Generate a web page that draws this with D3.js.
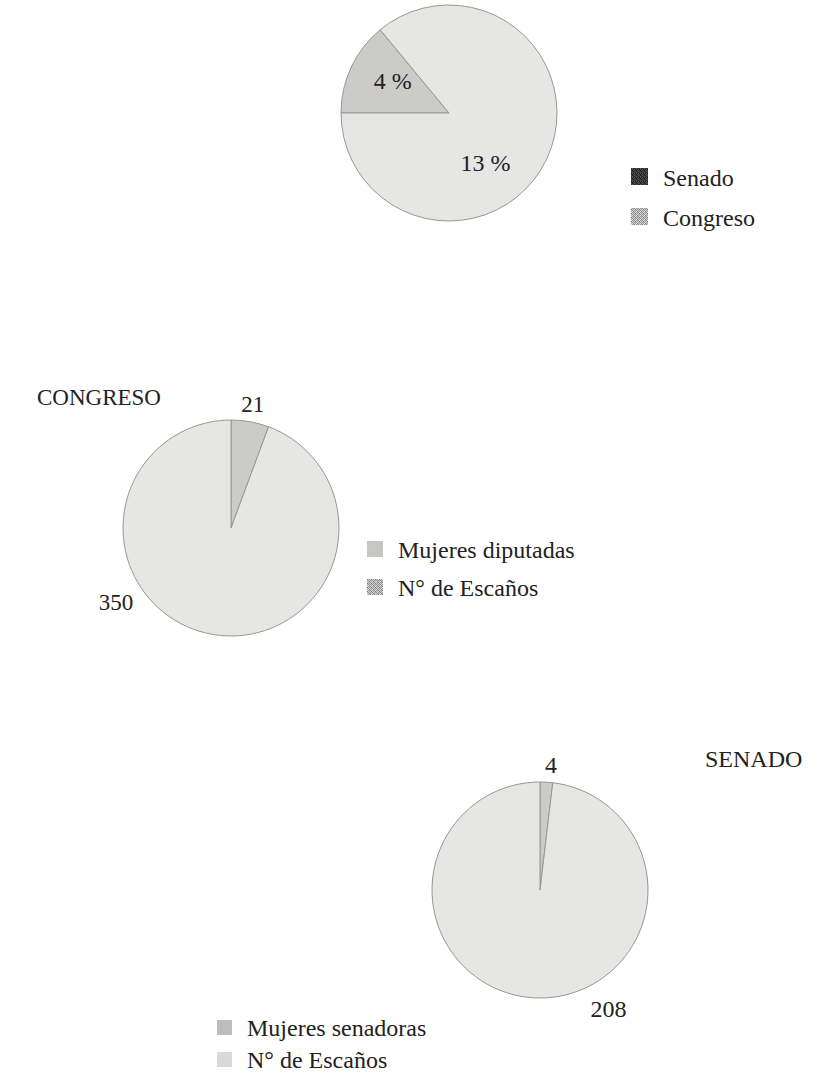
<!DOCTYPE html>
<html>
<head>
<meta charset="utf-8">
<script src="https://cdn.jsdelivr.net/npm/d3@7"></script>
<style>
  body { margin: 0; background: #fff; }
  svg { display: block; font-family: "Liberation Serif", "DejaVu Serif", serif; fill: #222; }
</style>
</head>
<body>
<div id="root"></div>
<script>
// Data
const topCategories = ["Senado", "Congreso"];
const topLabels = ["4 %", "13 %"];
const topShares = [14, 86]; // share of the circle each slice takes

const congresoCategories = ["Mujeres diputadas", "N° de Escaños"];
const congresoValues = [21, 350];

const senadoCategories = ["Mujeres senadoras", "N° de Escaños"];
const senadoValues = [4, 208];

const width = 821, height = 1085;
const radius = 108;

const svg = d3.select('#root')
    .append('svg')
    .attr('width', width)
    .attr('height', height);

// dithered fills for the top legend
const defs = svg.append('defs');
const makeDither = (id, shades) => {
    const p = defs.append('pattern')
        .attr('id', id)
        .attr('width', 4)
        .attr('height', 4)
        .attr('patternUnits', 'userSpaceOnUse');
    shades.forEach((c, i) => {
        p.append('rect')
            .attr('x', i % 4)
            .attr('y', Math.floor(i / 4))
            .attr('width', 1)
            .attr('height', 1)
            .attr('fill', c);
    });
};
makeDither('ditherDark', ['#222','#444','#2a2a2a','#555','#3a3a3a','#1e1e1e','#4d4d4d','#333',
                          '#444','#2e2e2e','#222','#505050','#333','#555','#3a3a3a','#262626']);
makeDither('ditherGrey', ['#777','#ccc','#999','#e0e0e0','#bbb','#888','#d6d6d6','#999',
                          '#aaa','#e6e6e6','#7d7d7d','#c4c4c4','#ddd','#9a9a9a','#bdbdbd','#858585']);

const arc = d3.arc().innerRadius(0).outerRadius(radius);
const polar = (deg, r) => {
    const a = deg * Math.PI / 180;
    return [r * Math.sin(a), -r * Math.cos(a)];
};

const sliceColors = ['#cbcbc9', '#e6e6e4'];

const drawPie = (cx, cy, values, startDeg, labels, labelPos, fontSize) => {
    const g = svg.append('g').attr('transform', `translate(${cx},${cy})`);
    const start = startDeg * Math.PI / 180;
    const pie = d3.pie().sort(null).startAngle(start).endAngle(start + 2 * Math.PI);
    g.selectAll('path')
        .data(pie(values))
        .enter()
        .append('path')
        .attr('d', arc)
        .attr('fill', (d, i) => sliceColors[i])
        .attr('stroke', '#979795')
        .attr('stroke-width', 1);
    g.selectAll('text')
        .data(labels)
        .enter()
        .append('text')
        .text(d => d)
        .attr('text-anchor', 'middle')
        .attr('dominant-baseline', 'central')
        .attr('font-size', fontSize)
        .attr('x', (d, i) => polar(labelPos[i][0], labelPos[i][1])[0])
        .attr('y', (d, i) => polar(labelPos[i][0], labelPos[i][1])[1]);
};

const drawLegend = (x, y, gap, names, fills, size, fontSize) => {
    const g = svg.append('g').attr('transform', `translate(${x},${y})`);
    const item = g.selectAll('g')
        .data(names)
        .enter()
        .append('g')
        .attr('transform', (d, i) => `translate(0,${i * gap})`);
    item.append('rect')
        .attr('x', 0)
        .attr('y', -size)
        .attr('width', size)
        .attr('height', size)
        .attr('fill', (d, i) => fills[i]);
    item.append('text')
        .text(d => d)
        .attr('x', size + 15)
        .attr('y', 1)
        .attr('font-size', fontSize);
};

// Top pie
drawPie(449, 113, topShares, 270, topLabels, [[300, 65], [144, 62]], 24);
drawLegend(631, 185, 40, topCategories, ['url(#ditherDark)', 'url(#ditherGrey)'], 17, 24);

// Congreso
svg.append('text')
    .text('CONGRESO')
    .attr('x', 37)
    .attr('y', 405)
    .attr('font-size', 23);
drawPie(231, 528, congresoValues, 0,
    congresoValues.map(String), [[10, 125], [237, 137]], 23);
drawLegend(367, 557, 38, congresoCategories, ['#c6c6c4', 'url(#ditherGrey)'], 16, 24);

// Senado
svg.append('text')
    .text('SENADO')
    .attr('x', 705)
    .attr('y', 767)
    .attr('font-size', 24);
drawPie(540, 890, senadoValues, 0,
    senadoValues.map(String), [[5, 125], [150, 137]], 24);
drawLegend(217, 1035, 32, senadoCategories, ['#bdbdbb', '#d9d9d7'], 15, 24);
</script>
</body>
</html>
